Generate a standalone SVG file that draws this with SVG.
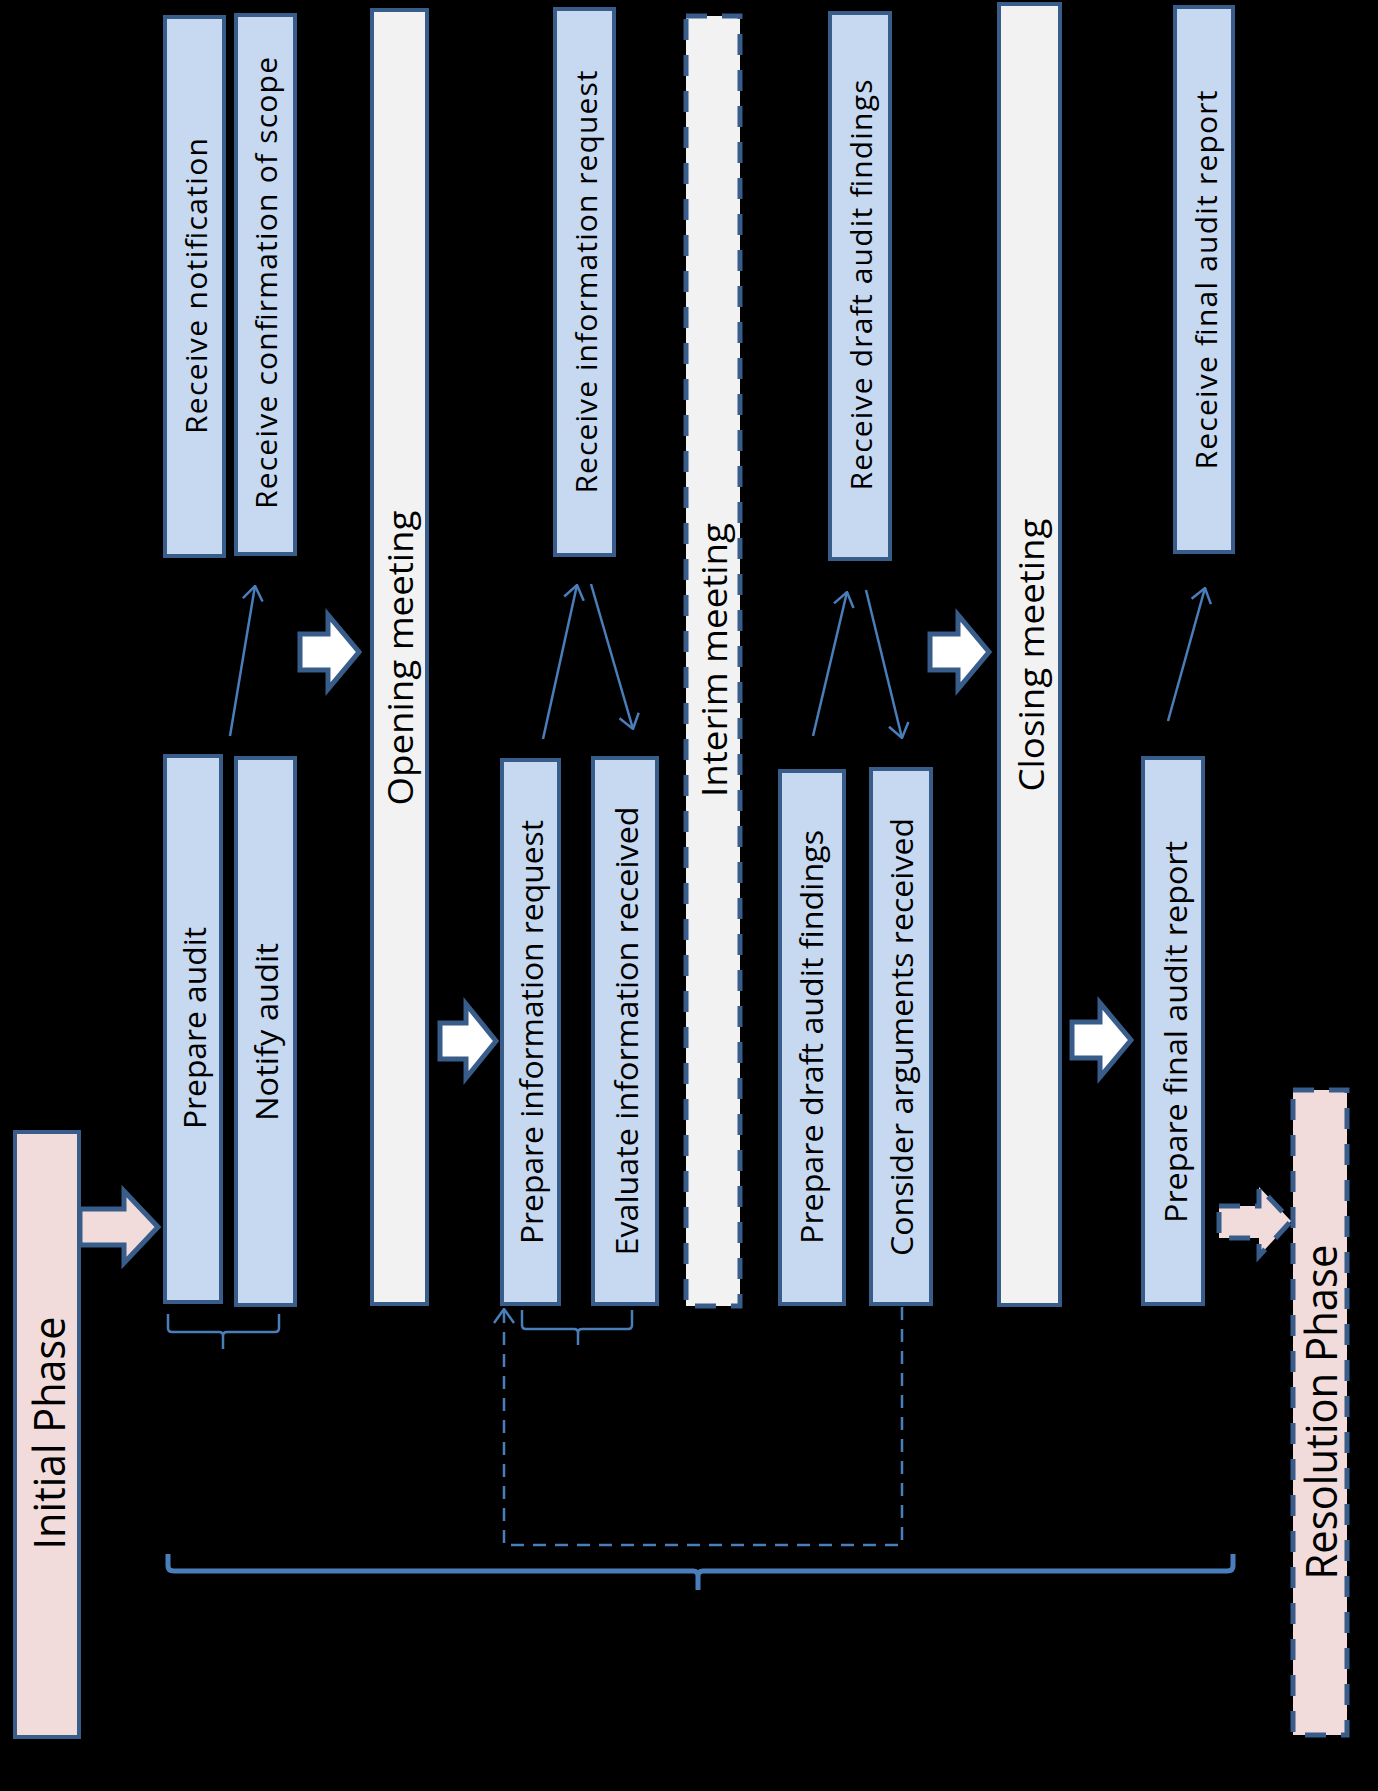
<svg xmlns="http://www.w3.org/2000/svg" width="1378" height="1791" viewBox="0 0 1378 1791">
<defs>
<style>
.bg{fill:#000}
.blue{fill:#C6D9F1;stroke:#385D8A;stroke-width:4}
.gray{fill:#F2F2F2;stroke:#385D8A;stroke-width:4}
.pink{fill:#F2DCDB;stroke:#385D8A;stroke-width:4}
.dash{stroke-dasharray:21 15;stroke-width:5}
.t{font-family:"Open Sans","Noto Sans",sans-serif;font-size:30px;fill:#000;text-anchor:middle}
.tn{font-family:"Open Sans","Noto Sans",sans-serif;font-size:31px;fill:#000;text-anchor:middle}
.tm{font-family:"Open Sans","Noto Sans",sans-serif;font-size:35px;fill:#000;text-anchor:middle}
.tp{font-family:"Open Sans","Noto Sans",sans-serif;font-size:44px;fill:#000;text-anchor:middle}
.conn{fill:none;stroke:#4A7EBB;stroke-width:2.5}
.loop{stroke-dasharray:13 9}
.brace{fill:none;stroke:#4A7EBB;stroke-width:2.5}
.bigbrace{fill:none;stroke:#4A7EBB;stroke-width:5}
.block{fill:#fff;stroke:#385D8A;stroke-width:5}
.pblock{fill:#F2DCDB;stroke:#385D8A;stroke-width:5}
</style>
<marker id="open" viewBox="0 0 16 22" refX="15" refY="11" markerWidth="16" markerHeight="22" markerUnits="userSpaceOnUse" orient="auto">
<path d="M1,1 L15,11 L1,21" fill="none" stroke="#4A7EBB" stroke-width="2.5"/>
</marker>
</defs>
<rect class="bg" x="0" y="0" width="1378" height="1791"/>

<g id="initial-phase">
<rect class="pink" x="15" y="1132" width="64" height="605"/>
<text class="tp" transform="translate(65,1433) rotate(-90)" textLength="233" lengthAdjust="spacingAndGlyphs">Initial Phase</text>
</g>

<g id="receive-notification">
<rect class="blue" x="165" y="17" width="59" height="539"/>
<text class="t" transform="translate(207,286) rotate(-90)" textLength="296" lengthAdjust="spacing">Receive notification</text>
</g>
<g id="receive-confirmation">
<rect class="blue" x="236" y="15" width="59" height="539"/>
<text class="t" transform="translate(277,283) rotate(-90)" textLength="452" lengthAdjust="spacing">Receive confirmation of scope</text>
</g>
<g id="prepare-audit">
<rect class="blue" x="165" y="756" width="56" height="546"/>
<text class="tn" transform="translate(206,1028) rotate(-90)" textLength="202" lengthAdjust="spacingAndGlyphs">Prepare audit</text>
</g>
<g id="notify-audit">
<rect class="blue" x="236" y="758" width="59" height="547"/>
<text class="tn" transform="translate(278,1032) rotate(-90)" textLength="178" lengthAdjust="spacingAndGlyphs">Notify audit</text>
</g>
<g id="opening-meeting">
<rect class="gray" x="372" y="10" width="55" height="1294"/>
<text class="tm" transform="translate(413,658) rotate(-90)" textLength="295" lengthAdjust="spacingAndGlyphs">Opening meeting</text>
</g>

<g id="receive-information-request">
<rect class="blue" x="555" y="9" width="59" height="546"/>
<text class="t" transform="translate(597,282) rotate(-90)" textLength="423" lengthAdjust="spacing">Receive information request</text>
</g>
<g id="prepare-information-request">
<rect class="blue" x="502" y="760" width="57" height="544"/>
<text class="tn" transform="translate(543,1032) rotate(-90)" textLength="424" lengthAdjust="spacingAndGlyphs">Prepare information request</text>
</g>
<g id="evaluate-information-received">
<rect class="blue" x="593" y="758" width="64" height="546"/>
<text class="tn" transform="translate(638,1031) rotate(-90)" textLength="449" lengthAdjust="spacingAndGlyphs">Evaluate information received</text>
</g>
<g id="interim-meeting">
<rect class="gray dash" x="686" y="16" width="54" height="1290"/>
<text class="tm" transform="translate(727,660) rotate(-90)" textLength="274" lengthAdjust="spacingAndGlyphs">Interim meeting</text>
</g>

<g id="receive-draft-audit-findings">
<rect class="blue" x="830" y="13" width="60" height="546"/>
<text class="t" transform="translate(872,285) rotate(-90)" textLength="411" lengthAdjust="spacing">Receive draft audit findings</text>
</g>
<g id="prepare-draft-audit-findings">
<rect class="blue" x="780" y="771" width="64" height="533"/>
<text class="tn" transform="translate(823,1037) rotate(-90)" textLength="414" lengthAdjust="spacingAndGlyphs">Prepare draft audit findings</text>
</g>
<g id="consider-arguments-received">
<rect class="blue" x="871" y="769" width="60" height="535"/>
<text class="tn" transform="translate(913,1037) rotate(-90)" textLength="438" lengthAdjust="spacingAndGlyphs">Consider arguments received</text>
</g>
<g id="closing-meeting">
<rect class="gray" x="999" y="4" width="61" height="1301"/>
<text class="tm" transform="translate(1044,655) rotate(-90)" textLength="273" lengthAdjust="spacingAndGlyphs">Closing meeting</text>
</g>

<g id="receive-final-audit-report">
<rect class="blue" x="1175" y="7" width="58" height="545"/>
<text class="t" transform="translate(1217,280) rotate(-90)" textLength="379" lengthAdjust="spacing">Receive final audit report</text>
</g>
<g id="prepare-final-audit-report">
<rect class="blue" x="1143" y="758" width="60" height="546"/>
<text class="tn" transform="translate(1187,1032) rotate(-90)" textLength="382" lengthAdjust="spacingAndGlyphs">Prepare final audit report</text>
</g>
<g id="resolution-phase">
<rect class="pink dash" x="1293" y="1090" width="54" height="645"/>
<text class="tp" transform="translate(1337,1412) rotate(-90)" textLength="335" lengthAdjust="spacingAndGlyphs">Resolution Phase</text>
</g>

<g id="connectors">
<polygon class="pblock" points="80,1209 124,1209 124,1191 158,1227 124,1263 124,1245 80,1245"/>
<polygon class="block" points="300,634 328,634 328,615 359,652 328,689 328,670 300,670"/>
<polygon class="block" points="440,1023 466,1023 466,1004 496,1041 466,1078 466,1059 440,1059"/>
<polygon class="block" points="930,634 958,634 958,615 989,652 958,689 958,670 930,670"/>
<polygon class="block" points="1072,1022 1100,1022 1100,1003 1131,1040 1100,1077 1100,1058 1072,1058"/>
<polygon class="pblock dash" points="1219,1206 1259,1206 1259,1187 1291,1221 1259,1256 1259,1238 1219,1238"/>

<line class="conn" x1="230" y1="736" x2="255" y2="586" marker-end="url(#open)"/>
<line class="conn" x1="543" y1="739" x2="577" y2="585" marker-end="url(#open)"/>
<line class="conn" x1="591" y1="584" x2="633" y2="729" marker-end="url(#open)"/>
<line class="conn" x1="813" y1="736" x2="847" y2="592" marker-end="url(#open)"/>
<line class="conn" x1="866" y1="590" x2="902" y2="738" marker-end="url(#open)"/>
<line class="conn" x1="1168" y1="721" x2="1205" y2="588" marker-end="url(#open)"/>
<path class="conn loop" d="M902,1307 V1545 H504 V1309" marker-end="url(#open)"/>

<path class="brace" d="M168,1314 V1328 Q168,1332 172,1332 H219 Q223,1332 223,1336 V1349 M223,1336 Q223,1332 227,1332 H275 Q279,1332 279,1328 V1314"/>
<path class="brace" d="M522,1310 V1325 Q522,1329 526,1329 H574 Q578,1329 578,1333 V1345 M578,1333 Q578,1329 582,1329 H628 Q632,1329 632,1325 V1310"/>
<path class="bigbrace" d="M168,1554 V1566 Q168,1571 174,1571 H693 Q698,1571 698,1576 V1590 M698,1576 Q698,1571 703,1571 H1227 Q1233,1571 1233,1566 V1554"/>
</g>
</svg>
